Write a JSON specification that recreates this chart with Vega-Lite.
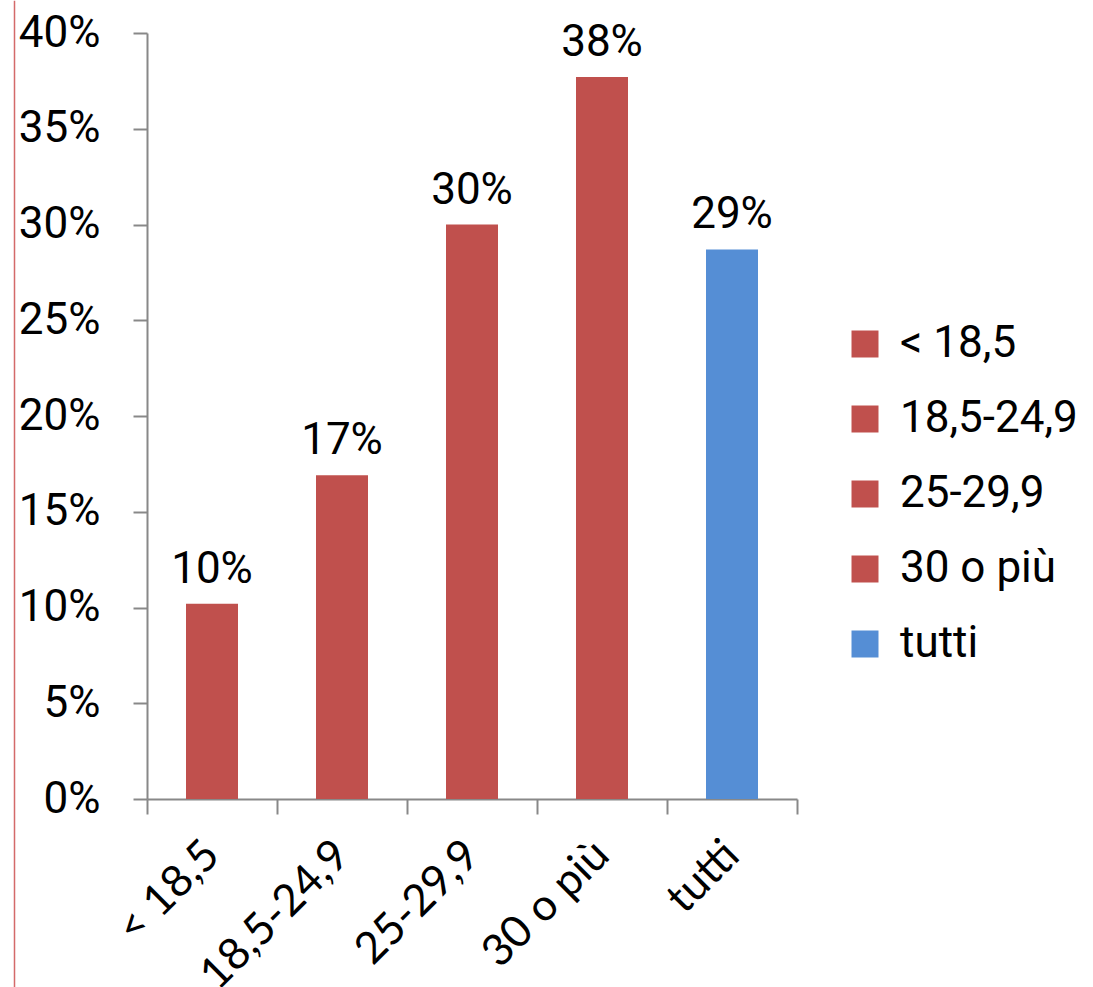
{
  "$schema": "https://vega.github.io/schema/vega-lite/v6.json",
  "background": "white",
  "padding": {"left": 13, "top": 0, "right": 0, "bottom": 0},
  "spacing": 2,
  "config": {
    "view": {"stroke": null},
    "font": "Roboto"
  },
  "hconcat": [
    {
      "width": 1,
      "height": 766,
      "data": {"values": [{}]},
      "mark": {"type": "rule", "color": "#d46a6a", "strokeWidth": 1.5, "clip": false},
      "encoding": {
        "y": {"datum": 0.4168, "type": "quantitative", "scale": {"domain": [0, 0.4], "nice": false}, "axis": null},
        "y2": {"datum": -0.0990}
      }
    },
    {
      "width": 650,
      "height": 766,
      "data": {
        "values": [
          {"categoria": "< 18,5", "quota": 0.102},
          {"categoria": "18,5-24,9", "quota": 0.169},
          {"categoria": "25-29,9", "quota": 0.300},
          {"categoria": "30 o più", "quota": 0.377},
          {"categoria": "tutti", "quota": 0.287}
        ]
      },
      "encoding": {
        "x": {
          "field": "categoria",
          "type": "nominal",
          "sort": null,
          "scale": {"paddingInner": 0, "paddingOuter": 0},
          "axis": {
            "title": null,
            "labelAngle": -45,
            "labelAlign": "right",
            "labelBaseline": "middle",
            "labelFont": "Lato",
            "labelFontSize": 44,
            "labelColor": "#000000",
            "labelPadding": 34,
            "labelLimit": 400,
            "tickBand": "extent",
            "tickSize": 15,
            "tickWidth": 2,
            "tickColor": "#888888",
            "domainColor": "#888888",
            "domainWidth": 2
          }
        },
        "y": {
          "field": "quota",
          "type": "quantitative",
          "scale": {"domain": [0, 0.4], "nice": false},
          "axis": {
            "title": null,
            "values": [0, 0.05, 0.1, 0.15, 0.2, 0.25, 0.3, 0.35, 0.4],
            "format": ".0%",
            "grid": false,
            "labelFont": "Roboto",
            "labelFontSize": 44,
            "labelColor": "#000000",
            "labelPadding": 33,
            "tickSize": 14,
            "tickWidth": 2,
            "tickColor": "#888888",
            "domainColor": "#888888",
            "domainWidth": 2
          }
        }
      },
      "layer": [
        {
          "mark": {"type": "bar", "width": {"band": 0.4}},
          "encoding": {
            "color": {
              "field": "categoria",
              "type": "nominal",
              "scale": {
                "domain": ["< 18,5", "18,5-24,9", "25-29,9", "30 o più", "tutti"],
                "range": ["#C0504D", "#C0504D", "#C0504D", "#C0504D", "#558ED5"]
              },
              "legend": {
                "orient": "none",
                "legendX": 829,
                "legendY": 289,
                "title": null,
                "symbolType": "square",
                "symbolSize": 729,
                "symbolStrokeWidth": 0,
                "symbolOpacity": 1,
                "labelFont": "Roboto",
                "labelFontSize": 44,
                "labelColor": "#000000",
                "labelOffset": 13,
                "rowPadding": 31,
                "labelLimit": 400,
                "labelExpr": "datum.label == '< 18,5' ? '\u00a0< 18,5' : datum.label"
              }
            }
          }
        },
        {
          "mark": {
            "type": "text",
            "baseline": "alphabetic",
            "dy": -21,
            "font": "Roboto",
            "fontSize": 44,
            "color": "#000000"
          },
          "encoding": {
            "text": {"field": "quota", "type": "quantitative", "format": ".0%"}
          }
        }
      ]
    }
  ]
}
